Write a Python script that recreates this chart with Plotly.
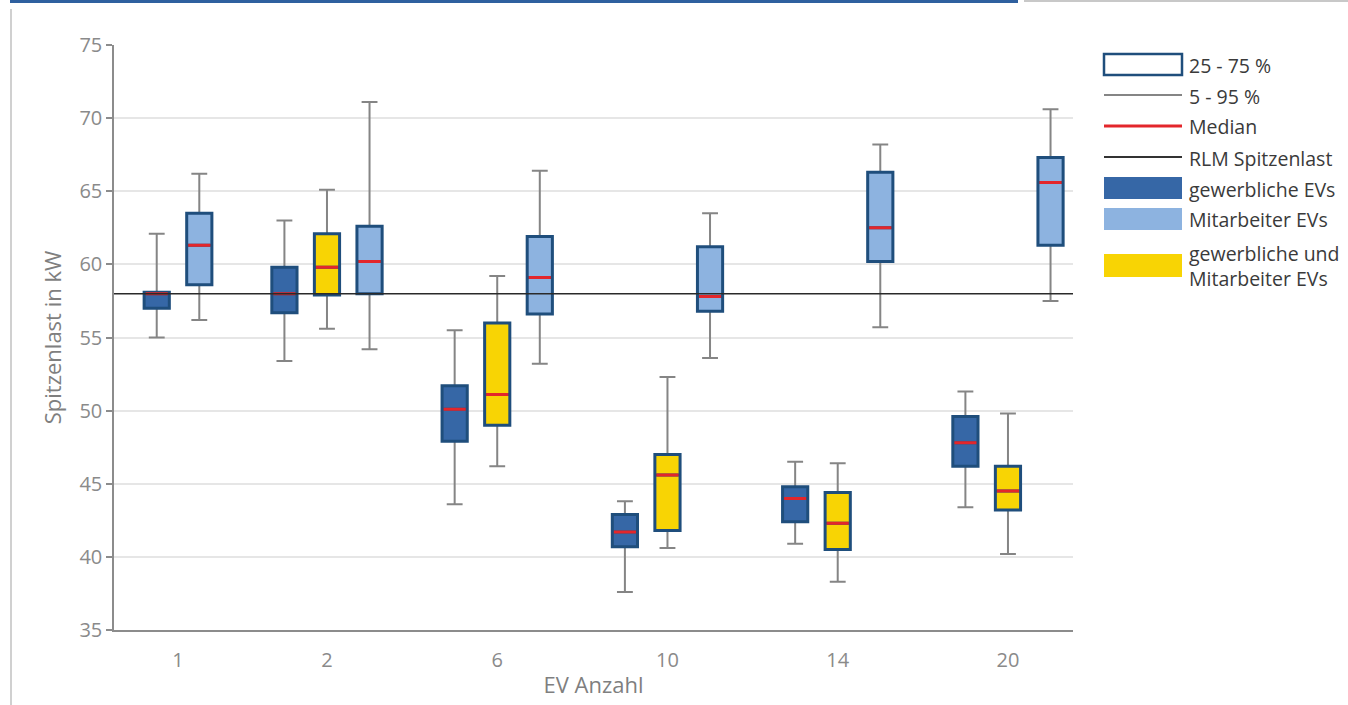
import plotly.graph_objects as go

# ---------------- data ----------------
CATEGORIES = ["1", "2", "6", "10", "14", "20"]
CAT_POS = [0.125, 1, 2, 3, 4, 5]

SERIES_NAMES = ["gewerbliche EVs", "gewerbliche und Mitarbeiter EVs", "Mitarbeiter EVs"]

gew_lo = [55.0, 53.4, 43.6, 37.6, 40.9, 43.4]
gew_q1 = [57.0, 56.7, 47.9, 40.7, 42.4, 46.2]
gew_med = [58.0, 58.0, 50.1, 41.7, 44.0, 47.8]
gew_q3 = [58.1, 59.8, 51.7, 42.9, 44.8, 49.6]
gew_hi = [62.1, 63.0, 55.5, 43.8, 46.5, 51.3]

both_lo = [None, 55.6, 46.2, 40.6, 38.3, 40.2]
both_q1 = [None, 57.9, 49.0, 41.8, 40.5, 43.2]
both_med = [None, 59.8, 51.1, 45.6, 42.3, 44.5]
both_q3 = [None, 62.1, 56.0, 47.0, 44.4, 46.2]
both_hi = [None, 65.1, 59.2, 52.3, 46.4, 49.8]

mit_lo = [56.2, 54.2, 53.2, 53.6, 55.7, 57.5]
mit_q1 = [58.6, 58.0, 56.6, 56.8, 60.2, 61.3]
mit_med = [61.3, 60.2, 59.1, 57.8, 62.5, 65.6]
mit_q3 = [63.5, 62.6, 61.9, 61.2, 66.3, 67.3]
mit_hi = [66.2, 71.1, 66.4, 63.5, 68.2, 70.6]

RLM_SPITZENLAST = 58.0

Y_TICKS = [35, 40, 45, 50, 55, 60, 65, 70, 75]

# ---------------- style ----------------
FONT = "Open Sans"
FILL = ["#3667A6", "#F8D404", "#8DB3E0"]
OUTLINE = "#1F4E7C"
WHISKER = "#858585"
MEDIAN = "#E3262B"
SLOT = 0.25
BOX_W = 0.148
MED_W = 0.13

series = [
    (gew_lo, gew_q1, gew_med, gew_q3, gew_hi),
    (both_lo, both_q1, both_med, both_q3, both_hi),
    (mit_lo, mit_q1, mit_med, mit_q3, mit_hi),
]

# positions of boxes: centre the present series around the category
positions = [[None] * len(CATEGORIES) for _ in series]
for ci, cpos in enumerate(CAT_POS):
    present = [si for si, s in enumerate(series) if s[2][ci] is not None]
    n = len(present)
    for k, si in enumerate(present):
        positions[si][ci] = cpos + (k - (n - 1) / 2) * SLOT

fig = go.Figure()

for si, (lo, q1, med, q3, hi) in enumerate(series):
    idx = [i for i in range(len(CATEGORIES)) if med[i] is not None]
    xs = [positions[si][i] for i in idx]
    L = [lo[i] for i in idx]
    Q1 = [q1[i] for i in idx]
    M = [med[i] for i in idx]
    Q3 = [q3[i] for i in idx]
    H = [hi[i] for i in idx]
    # whiskers (5 - 95 %)
    fig.add_trace(go.Box(
        x=xs, q1=M, median=M, q3=M, lowerfence=L, upperfence=H,
        width=BOX_W, whiskerwidth=0.63, boxpoints=False,
        line=dict(color=WHISKER, width=2), fillcolor="rgba(0,0,0,0)",
        showlegend=False, hoverinfo="skip", name=SERIES_NAMES[si] + " 5-95"))
    # box (25 - 75 %)
    fig.add_trace(go.Box(
        x=xs, q1=Q1, median=M, q3=Q3, lowerfence=Q1, upperfence=Q3,
        width=BOX_W, whiskerwidth=0, boxpoints=False,
        line=dict(color=OUTLINE, width=3), fillcolor=FILL[si],
        showlegend=False, name=SERIES_NAMES[si]))

for si, (lo, q1, med, q3, hi) in enumerate(series):
    idx = [i for i in range(len(CATEGORIES)) if med[i] is not None]
    xs = [positions[si][i] for i in idx]
    M = [med[i] for i in idx]
    fig.add_trace(go.Box(
        x=xs, q1=M, median=M, q3=M, lowerfence=M, upperfence=M,
        width=MED_W, whiskerwidth=0, boxpoints=False,
        line=dict(color=MEDIAN, width=3), fillcolor="rgba(0,0,0,0)",
        showlegend=False, hoverinfo="skip", name=SERIES_NAMES[si] + " Median"))

# ---------------- layout ----------------
W, H = 1348, 705
ML, MR, MT, MB = 114, 275, 45, 75
PW, PH = W - ML - MR, H - MT - MB


def xp(px):
    return (px - ML) / PW


def yp(py):
    return (H - MB - py) / PH


shapes = []
# RLM Spitzenlast line
shapes.append(dict(type="line", xref="paper", yref="y", x0=0, x1=1,
                   y0=RLM_SPITZENLAST, y1=RLM_SPITZENLAST,
                   line=dict(color="#2a2a2a", width=1.5), layer="above"))
# page decorations
shapes.append(dict(type="rect", xref="paper", yref="paper", x0=xp(10), x1=xp(1018),
                   y0=yp(3), y1=yp(0), fillcolor="#2F609F", line=dict(width=0)))
shapes.append(dict(type="rect", xref="paper", yref="paper", x0=xp(1024), x1=xp(1348),
                   y0=yp(2), y1=yp(0), fillcolor="#C8C8C8", line=dict(width=0)))
shapes.append(dict(type="rect", xref="paper", yref="paper", x0=xp(10), x1=xp(12),
                   y0=yp(705), y1=yp(9), fillcolor="#D0D0D0", line=dict(width=0)))

# legend
LX0, LX1, TX = 1104, 1182, 1187
shapes.append(dict(type="rect", xref="paper", yref="paper", x0=xp(LX0), x1=xp(LX1),
                   y0=yp(75), y1=yp(54), fillcolor="white",
                   line=dict(color=OUTLINE, width=2.5)))
for py, col, w in [(95, WHISKER, 2), (126, MEDIAN, 3), (157, "#333333", 2)]:
    shapes.append(dict(type="line", xref="paper", yref="paper", x0=xp(LX0), x1=xp(LX1),
                       y0=yp(py), y1=yp(py), line=dict(color=col, width=w)))
for (t, b), col in zip([(177, 199), (254, 277), (208, 230)], FILL):
    shapes.append(dict(type="rect", xref="paper", yref="paper", x0=xp(LX0), x1=xp(LX1),
                       y0=yp(b), y1=yp(t), fillcolor=col, line=dict(width=0)))

legend_texts = [
    ("25 - 75 %", 65),
    ("5 - 95 %", 96),
    ("Median", 127),
    ("RLM Spitzenlast", 158),
    ("gewerbliche EVs", 189),
    ("Mitarbeiter EVs", 219),
    ("gewerbliche und<br>Mitarbeiter EVs", 266),
]
annotations = []
for txt, py in legend_texts:
    annotations.append(dict(text=txt, xref="paper", yref="paper", x=xp(TX), y=yp(py),
                            xanchor="left", yanchor="middle", showarrow=False, align="left",
                            font=dict(family=FONT, size=19.5, color="#3a3a3a")))

fig.update_layout(
    width=W, height=H,
    margin=dict(l=ML, r=MR, t=MT, b=MB, autoexpand=False),
    paper_bgcolor="white", plot_bgcolor="white",
    boxmode="overlay", showlegend=False,
    font=dict(family=FONT, color="#808080"),
    shapes=shapes, annotations=annotations,
    xaxis=dict(range=[-0.251, 5.382], tickvals=CAT_POS, ticktext=CATEGORIES,
               showgrid=False, zeroline=False, showline=True, linecolor="#8C8C8C",
               linewidth=1.5, ticks="", ticklabelstandoff=11,
               tickfont=dict(family=FONT, size=20, color="#8a8a8a"),
               title=dict(text="EV Anzahl", standoff=6,
                          font=dict(family=FONT, size=22, color="#7f7f7f"))),
    yaxis=dict(range=[35, 75], tickvals=Y_TICKS, showgrid=True, gridcolor="#E6E6E6",
               gridwidth=1.5, zeroline=False, showline=True, linecolor="#8C8C8C",
               linewidth=1.5, ticks="outside", ticklen=6, tickwidth=1.5,
               tickcolor="#8C8C8C",
               tickfont=dict(family=FONT, size=20, color="#8a8a8a"),
               title=dict(text="Spitzenlast in kW", standoff=12,
                          font=dict(family=FONT, size=22, color="#7f7f7f"))),
)

fig.write_html("out.html")
